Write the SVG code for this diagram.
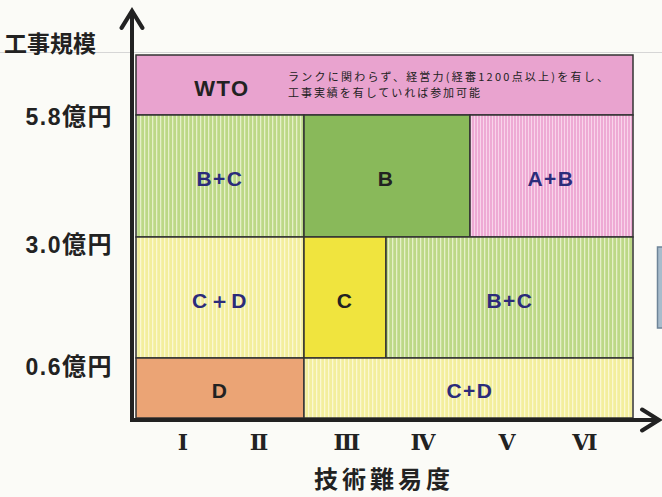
<svg xmlns="http://www.w3.org/2000/svg" width="662" height="497" viewBox="0 0 662 497">
<defs>
<pattern id="pGreen" width="4" height="4" patternUnits="userSpaceOnUse"><rect width="4" height="4" fill="#bcd886"/><rect x="0" width="1.3" height="4" fill="#e6f0c8"/></pattern>
<pattern id="pPink" width="3" height="3" patternUnits="userSpaceOnUse"><rect width="3" height="3" fill="#eeaad4"/><rect x="0" width="1" height="3" fill="#f8d4ea"/></pattern>
<pattern id="pYellow" width="4" height="4" patternUnits="userSpaceOnUse"><rect width="4" height="4" fill="#f3ee9c"/><rect x="0" width="1.3" height="4" fill="#fbf8d2"/></pattern>
<marker id="ah" viewBox="0 0 10 10" refX="8" refY="5" markerWidth="6.5" markerHeight="6.5" orient="auto" markerUnits="strokeWidth"><path d="M1.5,1 L8,5 L1.5,9" fill="none" stroke="#222" stroke-width="1.6" stroke-linecap="round" stroke-linejoin="miter"/></marker>
</defs>
<style>
.cell{stroke:#333;stroke-width:1.5}
.lbl{font-family:"Liberation Sans",Arial,sans-serif;font-weight:bold;font-size:21px;letter-spacing:1.5px;text-anchor:middle;dominant-baseline:central;fill:#2b2b7a}
.ax{font-family:"Liberation Sans","Noto Sans CJK JP",sans-serif;font-weight:bold;font-size:23px;letter-spacing:1.5px;fill:#222}
.yen{font-family:"Noto Sans CJK JP",sans-serif;font-size:24px}
.jp{font-family:"Noto Sans CJK JP",sans-serif;font-weight:bold;fill:#222}
.rn{font-family:"DejaVu Serif",serif;font-weight:bold;font-size:22px;fill:#222;text-anchor:middle;dominant-baseline:central}
.desc{font-family:"Noto Sans CJK JP",sans-serif;font-size:11px;fill:#222}
</style>
<rect width="662" height="497" fill="#fbfbf7"/>
<line x1="0" y1="52.5" x2="662" y2="52.5" stroke="#d6d6d6" stroke-width="1"/>
<g id="side-tab"><rect x="657.5" y="247" width="6" height="81" fill="#a8bccc" stroke="#6e8498" stroke-width="1.5"/></g>

<g id="wto"><rect class="cell" x="136" y="55" width="497" height="60" fill="#e9a3cf"/>
<text class="lbl" x="222" y="88" style="fill:#222;font-size:22px">WTO</text>
<text class="desc" x="288" y="81" textLength="320" lengthAdjust="spacing">ランクに関わらず、経営力(経審1200点以上)を有し、</text>
<text class="desc" x="288" y="97" textLength="192" lengthAdjust="spacing">工事実績を有していれば参加可能</text></g>

<g id="bc-top"><rect class="cell" x="136" y="115" width="168" height="122" fill="url(#pGreen)"/><text class="lbl" x="220" y="178">B+C</text></g>
<g id="b"><rect class="cell" x="304" y="115" width="166" height="122" fill="#89b95a"/><text class="lbl" x="386" y="178" style="fill:#222">B</text></g>
<g id="ab"><rect class="cell" x="470" y="115" width="163" height="122" fill="url(#pPink)"/><text class="lbl" x="551" y="178">A+B</text></g>

<g id="cd-left"><rect class="cell" x="136" y="237" width="168" height="121" fill="url(#pYellow)"/><text class="lbl" x="220" y="300">C＋D</text></g>
<g id="c"><rect class="cell" x="304" y="237" width="82" height="121" fill="#f0e43e"/><text class="lbl" x="345" y="300" style="fill:#222">C</text></g>
<g id="bc-right"><rect class="cell" x="386" y="237" width="247" height="121" fill="url(#pGreen)"/><text class="lbl" x="510" y="300">B+C</text></g>

<g id="d"><rect class="cell" x="136" y="358" width="168" height="60" fill="#eba475"/><text class="lbl" x="220" y="390" style="fill:#222">D</text></g>
<g id="cd-bottom"><rect class="cell" x="304" y="358" width="329" height="60" fill="url(#pYellow)"/><text class="lbl" x="470" y="390">C+D</text></g>

<g id="connectors">
<line x1="132" y1="421" x2="132" y2="11" stroke="#222" stroke-width="4" marker-end="url(#ah)"/>
<line x1="130" y1="420" x2="659" y2="420" stroke="#222" stroke-width="4" marker-end="url(#ah)"/>
</g>

<g id="y-labels">
<text class="jp" x="4" y="52" font-size="23">工事規模</text>
<text class="ax" x="113" y="125" text-anchor="end">5.8<tspan class="yen">億円</tspan></text>
<text class="ax" x="113" y="253" text-anchor="end">3.0<tspan class="yen">億円</tspan></text>
<text class="ax" x="113" y="375" text-anchor="end">0.6<tspan class="yen">億円</tspan></text>
</g>
<g id="x-labels">
<text class="rn" x="183" y="442">Ⅰ</text>
<text class="rn" x="259" y="442">Ⅱ</text>
<text class="rn" x="347" y="442">Ⅲ</text>
<text class="rn" x="423" y="442">Ⅳ</text>
<text class="rn" x="507" y="442">Ⅴ</text>
<text class="rn" x="585" y="442">Ⅵ</text>
<text class="jp" x="384" y="488" font-size="24" letter-spacing="4" text-anchor="middle">技術難易度</text>
</g>
</svg>
